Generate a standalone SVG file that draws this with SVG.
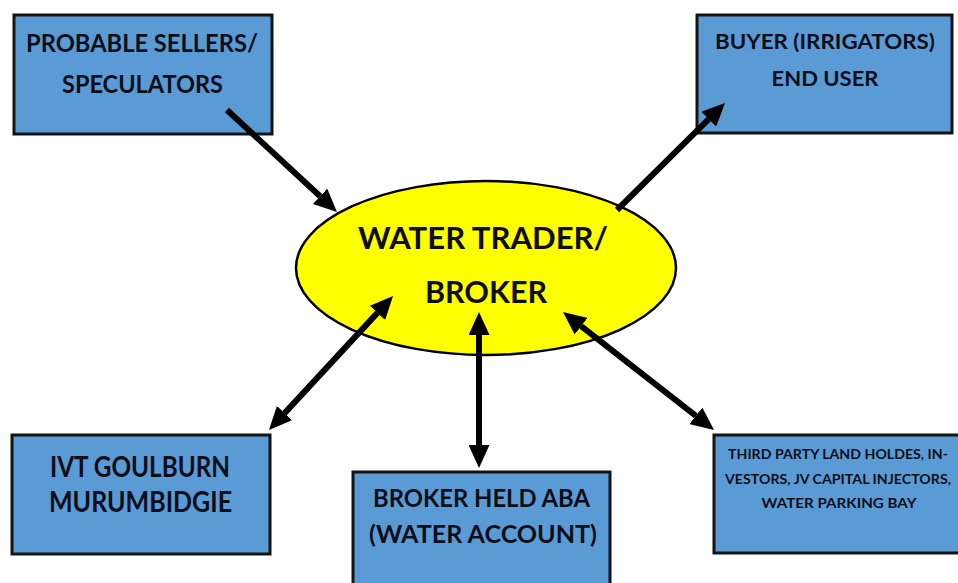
<svg xmlns="http://www.w3.org/2000/svg" width="958" height="583" viewBox="0 0 958 583">
<style>
.box{fill:#5b9bd5;stroke:#141414;stroke-width:3}
.t{font-family:Lato,"Open Sans","Liberation Sans",sans-serif;font-weight:bold;fill:#0e0e18;text-anchor:middle}
.conn{stroke:#000;stroke-width:6;fill:none}
</style>
<defs>
<marker id="ah" viewBox="0 0 23 21" refX="0" refY="10.5" markerWidth="23" markerHeight="21" markerUnits="userSpaceOnUse" orient="auto-start-reverse">
<path d="M0,0 L23,10.5 L0,21 z" fill="#000"/>
</marker>
</defs>
<rect width="958" height="583" fill="#fff"/>
<g id="n-sellers">
<rect class="box" x="14" y="15" width="258" height="119"/>
<text class="t" x="142" y="52" font-size="24" textLength="232" lengthAdjust="spacingAndGlyphs">PROBABLE SELLERS/</text>
<text class="t" x="142.5" y="93" font-size="24" textLength="161" lengthAdjust="spacingAndGlyphs">SPECULATORS</text>
</g>
<g id="n-buyer">
<rect class="box" x="697" y="15" width="255" height="118"/>
<text class="t" x="825" y="49" font-size="21" textLength="220" lengthAdjust="spacingAndGlyphs">BUYER (IRRIGATORS)</text>
<text class="t" x="825" y="86" font-size="21" textLength="107" lengthAdjust="spacingAndGlyphs">END USER</text>
</g>
<g id="n-broker">
<ellipse cx="486" cy="268" rx="190" ry="87" fill="#ffff00" stroke="#000" stroke-width="2.5"/>
<text class="t" x="483" y="249" font-size="30" textLength="250" lengthAdjust="spacingAndGlyphs">WATER TRADER/</text>
<text class="t" x="486" y="303" font-size="30" textLength="122" lengthAdjust="spacingAndGlyphs">BROKER</text>
</g>
<g id="n-ivt">
<rect class="box" x="12" y="435" width="258" height="119"/>
<text class="t" x="140" y="477" font-size="28" textLength="180" lengthAdjust="spacingAndGlyphs">IVT GOULBURN</text>
<text class="t" x="140.5" y="512" font-size="28" textLength="183" lengthAdjust="spacingAndGlyphs">MURUMBIDGIE</text>
</g>
<g id="n-aba">
<rect class="box" x="353" y="472" width="257" height="125"/>
<text class="t" x="481.5" y="507" font-size="24" textLength="217" lengthAdjust="spacingAndGlyphs">BROKER HELD ABA</text>
<text class="t" x="483" y="543" font-size="24" textLength="228" lengthAdjust="spacingAndGlyphs">(WATER ACCOUNT)</text>
</g>
<g id="n-thirdparty">
<rect class="box" x="714" y="435" width="260" height="118"/>
<text class="t" x="838" y="459" font-size="14" textLength="220" lengthAdjust="spacingAndGlyphs">THIRD PARTY LAND HOLDES, IN-</text>
<text class="t" x="838" y="484" font-size="14" textLength="226" lengthAdjust="spacingAndGlyphs">VESTORS, JV CAPITAL INJECTORS,</text>
<text class="t" x="839" y="508" font-size="14" textLength="155" lengthAdjust="spacingAndGlyphs">WATER PARKING BAY</text>
</g>
<g id="connectors">
<line class="conn" x1="227" y1="110" x2="320.1" y2="196.3" marker-end="url(#ah)"/>
<line class="conn" x1="617" y1="210" x2="708.7" y2="119.2" marker-end="url(#ah)"/>
<line class="conn" x1="284.6" y1="413.1" x2="377.4" y2="312.9" marker-start="url(#ah)" marker-end="url(#ah)"/>
<line class="conn" x1="479" y1="445" x2="479" y2="335" marker-start="url(#ah)" marker-end="url(#ah)"/>
<line class="conn" x1="581.1" y1="326.2" x2="695.9" y2="415.8" marker-start="url(#ah)" marker-end="url(#ah)"/>
</g>
</svg>
